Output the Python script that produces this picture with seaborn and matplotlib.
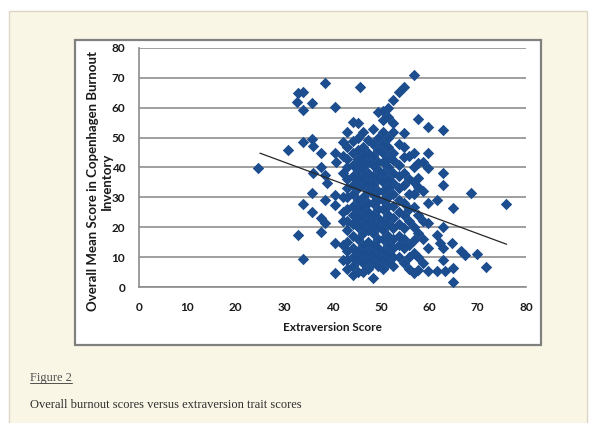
import numpy as np
import pandas as pd
import matplotlib
matplotlib.use("Agg")
import matplotlib.pyplot as plt
from matplotlib.patches import Rectangle
from matplotlib.lines import Line2D
import seaborn as sns

# ---- data -------------------------------------------------------------
# scattered respondents on the low-extraversion side
left_x = [24.7, 30.9, 32.9, 34.0, 32.6, 35.7, 34.0, 38.4, 40.5, 34.0, 35.7, 36.0,
          37.7, 40.5, 40.8, 37.7, 36.0, 38.4, 38.8, 35.7, 38.4, 40.5, 40.5, 34.0,
          35.7, 37.7, 38.4, 37.7, 32.9, 40.5, 34.0, 40.5]
left_y = [39.7, 46.0, 64.8, 65.3, 62.0, 61.6, 59.2, 68.2, 60.3, 48.6, 49.7, 47.2,
          44.7, 44.7, 41.9, 40.2, 38.0, 37.5, 34.7, 31.5, 29.1, 30.8, 27.4, 27.8,
          25.2, 23.0, 21.3, 18.5, 17.4, 14.8, 9.3, 4.6]

# scattered respondents on the high-extraversion side
right_x = [59.8, 62.9, 59.8, 59.8, 62.9, 62.9, 68.7, 75.8, 61.5, 59.8, 64.9, 59.8,
           62.9, 61.5, 62.2, 59.8, 62.9, 64.6, 62.9, 66.5, 67.4, 69.8, 71.8, 61.5,
           63.2, 64.9, 64.9, 59.8]
right_y = [53.4, 52.5, 44.7, 39.7, 38.0, 34.1, 31.5, 27.8, 29.1, 28.0, 26.3, 21.3,
           20.0, 17.4, 14.6, 12.9, 12.9, 14.8, 9.0, 12.1, 10.7, 11.0, 6.8, 5.5,
           5.5, 6.5, 1.6, 5.5]

# the dense middle band, grouped by extraversion score
core_x = [42.1, 43.1, 44.2, 45.2, 45.7, 46.3, 47.3, 48.4, 49.4, 50.5, 51.5, 52.6,
          53.7, 54.7, 55.8, 56.8, 57.7, 58.8]
core_y = [
    [48.6, 44, 38, 30, 25, 22, 14, 9],
    [52, 47, 43, 40, 36, 33, 30, 26, 22, 19, 15, 12, 9, 6],
    [55.3, 49, 45, 41, 37, 34, 31, 27, 24, 21, 17, 13, 10, 7, 4],
    [55, 50, 45.8, 43, 39, 36, 33, 29, 26, 23, 20, 16, 12, 9, 5],
    [67, 41.9],
    [51.9, 47, 44, 40, 37, 34, 30, 27, 24, 21, 18, 14, 11, 8, 5],
    [49.2, 45, 42, 38, 35, 32, 28, 25, 22, 19, 15, 12, 9, 6],
    [53, 48, 44, 41, 37, 34, 31, 28, 24, 21, 18, 14, 11, 8, 3],
    [58.6, 50, 46, 42, 39, 36, 32, 29, 26, 23, 20, 16, 13, 10, 7],
    [59, 56, 52, 48, 45, 42, 38, 35, 32, 29, 26, 22, 19, 16, 12, 9, 6],
    [60, 57, 50, 47, 43, 40, 36, 33, 30, 27, 24, 21, 17, 14, 11, 8],
    [62.5, 55, 52, 45, 42.5, 38, 34.7, 31, 27, 23, 19.6, 16, 12.9, 10, 7],
    [65.3, 48, 41, 37, 33, 29, 25, 21, 17, 14, 10],
    [67, 51.4, 47, 43.6, 38, 34, 28, 24, 19.6, 16, 12.9, 7.9],
    [44, 36, 31, 26, 22, 14, 10, 6],
    [70.9, 44.7, 40, 35, 31, 26.9, 20.2, 15.7, 11.3, 4.6],
    [56.4, 41.4, 36.4, 33.5, 24, 18, 10.1, 5.7],
    [42, 32, 22, 16, 8],
]

# linear trend line end points
trend_x = [25, 76]
trend_y = [44.8, 14.3]

x_ticks = [0, 10, 20, 30, 40, 50, 60, 70, 80]
y_ticks = [0, 10, 20, 30, 40, 50, 60, 70, 80]

# ---- assemble the table ----------------------------------------------
xs = list(left_x) + list(right_x)
ys = list(left_y) + list(right_y)
for cx, col in zip(core_x, core_y):
    xs += [cx] * len(col)
    ys += list(col)
df = pd.DataFrame({"Extraversion Score": xs, "Burnout": ys})

# ---- figure ------------------------------------------------------------
sns.set_style("white")
plt.rcParams["font.family"] = ["Lato", "DejaVu Sans"]

W, H = 593, 423
fig = plt.figure(figsize=(W / 100, H / 100), dpi=100)
fig.patch.set_facecolor("white")


def fx(px):
    return px / W


def fy(py):
    return 1 - py / H


# cream page panel
fig.add_artist(Rectangle((fx(9), fy(440)), fx(587) - fx(9), fy(11) - fy(440),
                         transform=fig.transFigure, facecolor="#faf6e6",
                         edgecolor="#ddd6c4", linewidth=1.0, zorder=0))
# white chart box
fig.add_artist(Rectangle((fx(75), fy(345)), fx(541) - fx(75), fy(40) - fy(345),
                         transform=fig.transFigure, facecolor="white",
                         edgecolor="#808080", linewidth=1.6, zorder=0.5))

ax = fig.add_axes([fx(139), fy(287), fx(526) - fx(139), fy(48) - fy(287)])
ax.set_facecolor("none")
ax.set_zorder(1)

sns.scatterplot(data=df, x="Extraversion Score", y="Burnout", marker="D", s=34,
                color="#1c4d8e", edgecolor="#1c4d8e", linewidth=0, ax=ax,
                zorder=3, clip_on=False)
ax.plot(trend_x, trend_y, color="#262626", linewidth=0.9, zorder=4)

ax.set_xlim(0, 80)
ax.set_ylim(0, 80)
ax.set_xticks(x_ticks)
ax.set_yticks(y_ticks)
ax.set_xticklabels([str(t) for t in x_ticks])
ax.set_yticklabels([str(t) for t in y_ticks])
ax.yaxis.grid(True, color="#8f8f8f", linewidth=1.2)
ax.xaxis.grid(False)
ax.set_axisbelow(True)
for side in ("top", "right"):
    ax.spines[side].set_visible(False)
for side in ("left", "bottom"):
    ax.spines[side].set_color("#8c8c8c")
    ax.spines[side].set_linewidth(1.2)
ax.tick_params(axis="both", direction="out", length=4, width=1, color="#8c8c8c",
               labelsize=8.5, labelcolor="#1a1a1a")
ax.tick_params(axis="x", pad=7)
ax.tick_params(axis="y", pad=6)
for lab in ax.get_xticklabels() + ax.get_yticklabels():
    lab.set_fontweight("bold")

ax.set_xlabel("Extraversion Score", fontsize=8.5, fontweight="bold",
              color="#1a1a1a", labelpad=6)
ax.set_ylabel("")
fig.text(fx(100), fy(181), "Overall Mean Score in Copenhagen Burnout\nInventory",
         rotation=90, ha="center", va="center", multialignment="center",
         fontsize=9.5, fontweight="bold", color="#1a1a1a", linespacing=1.15)

# figure caption below the chart
serif = ["Liberation Serif", "DejaVu Serif"]
fig_label = fig.text(fx(30), fy(378), "Figure 2", family=serif, fontsize=9,
                     color="#505050", ha="left", va="center")
fig.text(fx(30), fy(405), "Overall burnout scores versus extraversion trait scores",
         family=serif, fontsize=9, color="#2e2e2e", ha="left", va="center")

fig.canvas.draw()
bb = fig_label.get_window_extent().transformed(fig.transFigure.inverted())
fig.add_artist(Line2D([bb.x0, bb.x1], [bb.y0 + 0.002, bb.y0 + 0.002],
                      transform=fig.transFigure, color="#505050", linewidth=0.7))

fig.savefig("out.png", dpi=100)
